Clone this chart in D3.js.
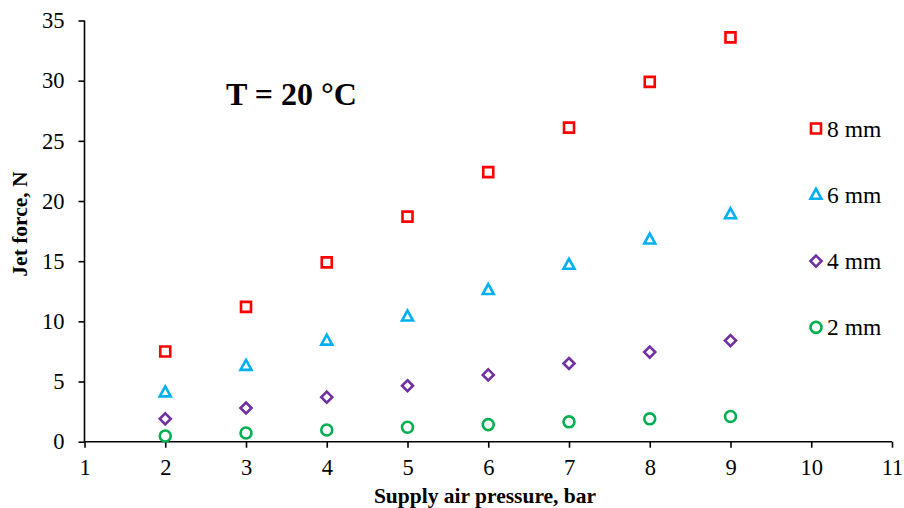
<!DOCTYPE html>
<html>
<head>
<meta charset="utf-8">
<style>
body { margin: 0; background: #fff; }
text { font-family: "Liberation Serif", "Times New Roman", serif; }
</style>
</head>
<body>
<svg width="904" height="508"></svg>
<script src="https://cdn.jsdelivr.net/npm/d3@7/dist/d3.min.js"></script>
<script>
var pressure = [2, 3, 4, 5, 6, 7, 8, 9];
var force8 = [7.5, 11.2, 14.9, 18.7, 22.4, 26.1, 29.9, 33.6];
var force6 = [4.1, 6.3, 8.4, 10.4, 12.6, 14.7, 16.8, 18.9];
var force4 = [1.9, 2.8, 3.7, 4.65, 5.55, 6.5, 7.45, 8.4];
var force2 = [0.47, 0.72, 0.97, 1.2, 1.42, 1.65, 1.9, 2.1];
var seriesNames = ["8 mm", "6 mm", "4 mm", "2 mm"];
var xTicks = [1, 2, 3, 4, 5, 6, 7, 8, 9, 10, 11];
var yTicks = [0, 5, 10, 15, 20, 25, 30, 35];

var series = [
  { name: seriesNames[0], values: force8, color: "#ff0000", shape: "square" },
  { name: seriesNames[1], values: force6, color: "#00b0f0", shape: "triangle" },
  { name: seriesNames[2], values: force4, color: "#7030a0", shape: "diamond" },
  { name: seriesNames[3], values: force2, color: "#00b050", shape: "circle" }
];

var svg = d3.select("svg");
var x = d3.scaleLinear().domain([1, 11]).range([84.5, 892]);
var y = d3.scaleLinear().domain([0, 35]).range([441.7, 20.5]);

// marker paths
function markerPath(shape) {
  if (shape == "square") return "M-5,-5H5V5H-5Z";
  if (shape == "triangle") return "M0,-6L5.5,4H-5.5Z";
  if (shape == "diamond") return "M0,-5.5L5.5,0L0,5.5L-5.5,0Z";
  return d3.symbol().type(d3.symbolCircle).size(Math.PI * 30)();
}

// axes
var yAxis = svg.append("g")
  .attr("transform", "translate(" + x(1) + ",0)")
  .call(d3.axisLeft(y).tickValues(yTicks).tickSize(6).tickPadding(14));
var xAxis = svg.append("g")
  .attr("transform", "translate(0," + y(0) + ")")
  .call(d3.axisBottom(x).tickValues(xTicks).tickSize(6).tickPadding(11));

[xAxis, yAxis].forEach(function(a) {
  a.select(".domain").attr("stroke", "#000").attr("stroke-width", 1.6);
  a.selectAll(".tick line").attr("stroke", "#000").attr("stroke-width", 1.6);
  a.selectAll(".tick text")
    .attr("fill", "#000")
    .style("font-family", "'Liberation Serif', serif")
    .style("font-size", "22.5px");
});
yAxis.select(".domain").attr("d", "M0," + y(35) + "V" + y(0));
xAxis.select(".domain").attr("d", "M" + x(1) + ",0H" + x(11));

// points
series.forEach(function(s) {
  svg.append("g").selectAll("path")
    .data(s.values)
    .enter()
    .append("path")
    .attr("transform", function(d, i) {
      return "translate(" + x(pressure[i]) + "," + y(d) + ")";
    })
    .attr("d", markerPath(s.shape))
    .attr("fill", "none")
    .attr("stroke", s.color)
    .attr("stroke-width", 2.6);
});

// legend
var legend = svg.append("g").selectAll("g")
  .data(series)
  .enter()
  .append("g")
  .attr("transform", function(d, i) { return "translate(816," + (128.5 + i * 66.3) + ")"; });
legend.append("path")
  .attr("d", function(d) { return markerPath(d.shape); })
  .attr("fill", "none")
  .attr("stroke", function(d) { return d.color; })
  .attr("stroke-width", 2.6);
legend.append("text")
  .attr("x", 11)
  .attr("y", 8)
  .style("font-size", "23.5px")
  .text(function(d) { return d.name; });

// titles
svg.append("text")
  .attr("x", 226)
  .attr("y", 105)
  .style("font-size", "32px")
  .style("font-weight", "bold")
  .text("T = 20 °C");

svg.append("text")
  .attr("x", 485)
  .attr("y", 503)
  .attr("text-anchor", "middle")
  .style("font-size", "21.5px")
  .style("font-weight", "bold")
  .text("Supply air pressure, bar");

svg.append("text")
  .attr("transform", "translate(27,224) rotate(-90)")
  .attr("text-anchor", "middle")
  .style("font-size", "21.5px")
  .style("font-weight", "bold")
  .text("Jet force, N");
</script>
</body>
</html>
